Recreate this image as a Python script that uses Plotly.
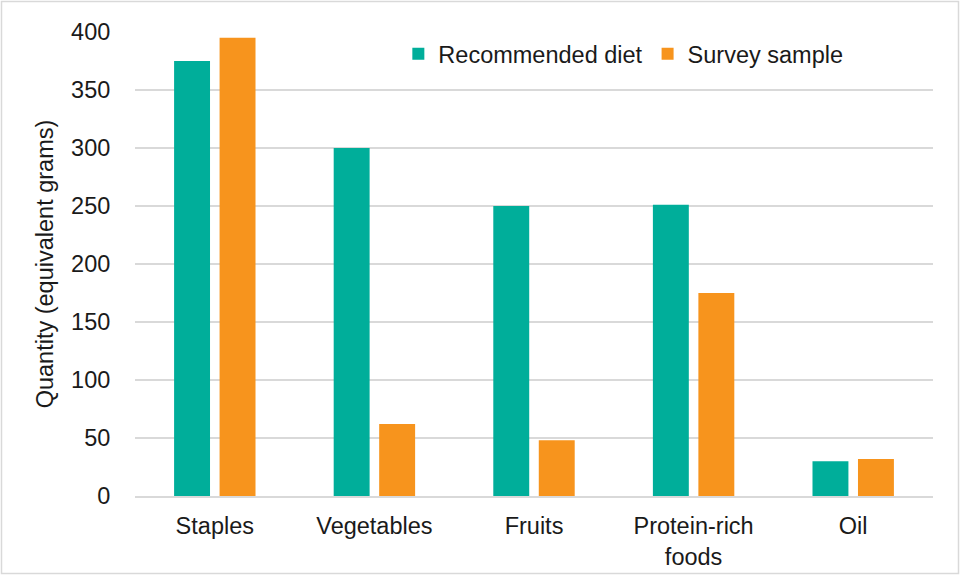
import plotly.graph_objects as go

categories = ["Staples", "Vegetables", "Fruits", "Protein-rich<br>foods", "Oil"]
recommended = [375, 300, 250, 251, 30]
survey = [395, 62, 48, 175, 32]
series_names = ["Recommended diet", "Survey sample"]
y_ticks = [0, 50, 100, 150, 200, 250, 300, 350, 400]

TEAL = "#00AE9A"
ORANGE = "#F7941D"
FONT = "Liberation Sans, Arial, sans-serif"
TXT = "#1a1a1a"

fig = go.Figure()
fig.add_trace(go.Bar(x=categories, y=recommended, name=series_names[0],
                     marker=dict(color=TEAL, line=dict(width=0))))
fig.add_trace(go.Bar(x=categories, y=survey, name=series_names[1],
                     marker=dict(color=ORANGE, line=dict(width=0))))

L, R, T, B = 135, 28, 32, 80
W, H = 961, 576
pw, ph = W - L - R, H - T - B

fig.update_layout(
    width=W, height=H,
    margin=dict(l=L, r=R, t=T, b=B, autoexpand=False),
    paper_bgcolor="white", plot_bgcolor="white",
    barmode="group", bargap=0.43, bargroupgap=0.21,
    font=dict(family=FONT, size=23.5, color=TXT),
    showlegend=True,
    legend=dict(orientation="h", x=0.33, y=1.0, xanchor="left", yanchor="top",
                font=dict(family=FONT, size=23.5, color=TXT),
                itemwidth=30, bgcolor="rgba(0,0,0,0)", traceorder="normal"),
    xaxis=dict(showgrid=False, showline=True, linecolor="#D9D9D9", linewidth=1.5,
               automargin=False,
               ticks="outside", ticklen=8, tickcolor="rgba(0,0,0,0)",
               tickfont=dict(family=FONT, size=23.5, color=TXT)),
    yaxis=dict(range=[0, 400], tickvals=y_ticks, showgrid=True, gridcolor="#D9D9D9",
               gridwidth=1.5, zeroline=False, showline=False, automargin=False,
               ticks="outside", ticklen=19, tickcolor="rgba(0,0,0,0)",
               tickfont=dict(family=FONT, size=23.5, color=TXT),
               title=dict(text="Quantity (equivalent grams)", standoff=10,
                          font=dict(family=FONT, size=23.5, color=TXT))),
    shapes=[dict(type="rect", xref="paper", yref="paper",
                 x0=(1.5 - L) / pw, x1=(W - 2.5 - L) / pw,
                 y0=-(H - 2.5 - T - ph) / ph, y1=1 + (T - 1.5) / ph,
                 line=dict(color="#D9D9D9", width=1.5), layer="below")],
)

fig.write_html("out.html",
               post_script="document.body.style.margin='0';document.body.style.overflow='hidden';")
